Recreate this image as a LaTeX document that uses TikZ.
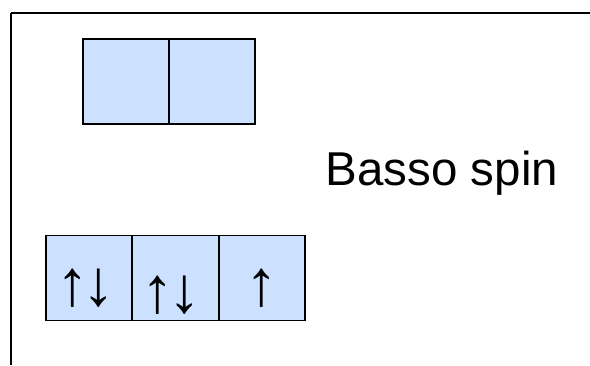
\documentclass[tikz,border=0pt]{standalone}
\usepackage{fontspec}
\setmainfont{Liberation Sans}
\definecolor{orbfill}{RGB}{204,224,255}
\tikzset{
  orb/.style={draw=black, line width=1.5pt, fill=orbfill, minimum width=86pt, minimum height=85pt, inner sep=0pt, outer sep=0pt},
  spinarr/.style={font=\fontsize{65}{65}\selectfont, inner sep=0pt, anchor=base},
}
\begin{document}
\begin{tikzpicture}[x=1pt, y=-1pt]
  \useasboundingbox (0,0) rectangle (590,365);
  % frame edges
  \coordinate (ftl) at (11,13);
  \coordinate (ftr) at (590,13);
  \coordinate (fbl) at (11,365);
  \draw[line width=2.2pt] (ftl) -- (ftr);
  \draw[line width=1.6pt] (ftl) -- (fbl);

  % upper pair of empty orbitals
  \node[orb] (u1) at (126,81.5) {};
  \node[orb] (u2) at (212,81.5) {};

  % lower row of occupied orbitals
  \node[orb] (d1) at (89,278) {};
  \node[orb] (d2) at (175.5,278) {};
  \node[orb] (d3) at (262,278) {};

  % electron spins
  \node[spinarr] (a1) at (73,305.7) {↑};
  \node[spinarr] (b1) at (99,305.7) {↓};
  \node[spinarr] (a2) at (158,312) {↑};
  \node[spinarr] (b2) at (185,312) {↓};
  \node[spinarr] (a3) at (262,305.7) {↑};

  \node[font=\fontsize{47.5}{47.5}\selectfont, inner sep=0pt, anchor=base west] (lbl) at (325.5,185.5) {Basso spin};
\end{tikzpicture}
\end{document}
